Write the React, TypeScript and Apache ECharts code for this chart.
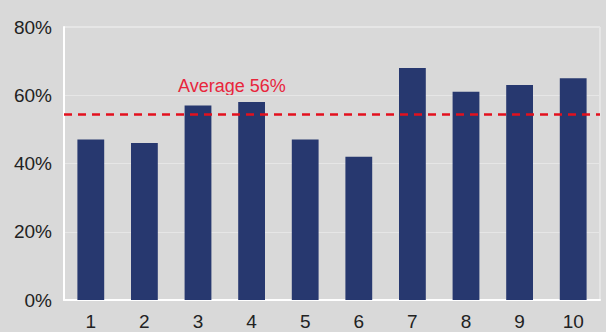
import React, { useEffect, useRef } from "react";
import * as echarts from "echarts";

const categories = ["1", "2", "3", "4", "5", "6", "7", "8", "9", "10"];
const values = [47, 46, 57, 58, 47, 42, 68, 61, 63, 65];
const averageLine = 54.5;
const averageLabel = "Average 56%";

export default function App() {
  const ref = useRef<HTMLDivElement>(null);
  useEffect(() => {
    if (!ref.current) return;
    const chart = echarts.init(ref.current, null, { renderer: "svg" });
    const font = "Liberation Sans";
    chart.setOption({
      animation: false,
      backgroundColor: "#d9d9d9",
      grid: { left: 64, right: 6, top: 27, bottom: 32, show: true, borderColor: "#f2f2f2", borderWidth: 1, backgroundColor: "transparent" },
      xAxis: {
        type: "category",
        data: categories,
        axisLine: { show: true, lineStyle: { color: "#ffffff", width: 2 } },
        axisTick: { show: false },
        axisLabel: { color: "#222", fontSize: 19, fontFamily: font, margin: 12 },
      },
      yAxis: {
        type: "value",
        min: 0,
        max: 80,
        interval: 20,
        axisLine: { show: true, lineStyle: { color: "#ffffff", width: 2 } },
        axisTick: { show: false },
        splitLine: { lineStyle: { color: "#e6e6e6", width: 1 } },
        axisLabel: { color: "#222", fontSize: 19, fontFamily: font, formatter: "{value}%", margin: 12 },
      },
      series: [
        {
          type: "bar",
          data: values,
          barWidth: "50%",
          itemStyle: { color: "#27386f" },
          markLine: {
            symbol: "none",
            silent: true,
            lineStyle: { color: "#e3101e", type: [8, 6], width: 2.5 },
            label: { show: false },
            data: [{ yAxis: averageLine }],
          },
        },
      ],
      graphic: [
        {
          type: "text",
          left: 178,
          top: 77,
          style: { text: averageLabel, fill: "#e8253c", fontSize: 18, fontFamily: font },
        },
      ],
    });
    return () => chart.dispose();
  }, []);
  return <div ref={ref} style={{ width: 606, height: 332, position: "absolute", left: 0, top: 0 }} />;
}
